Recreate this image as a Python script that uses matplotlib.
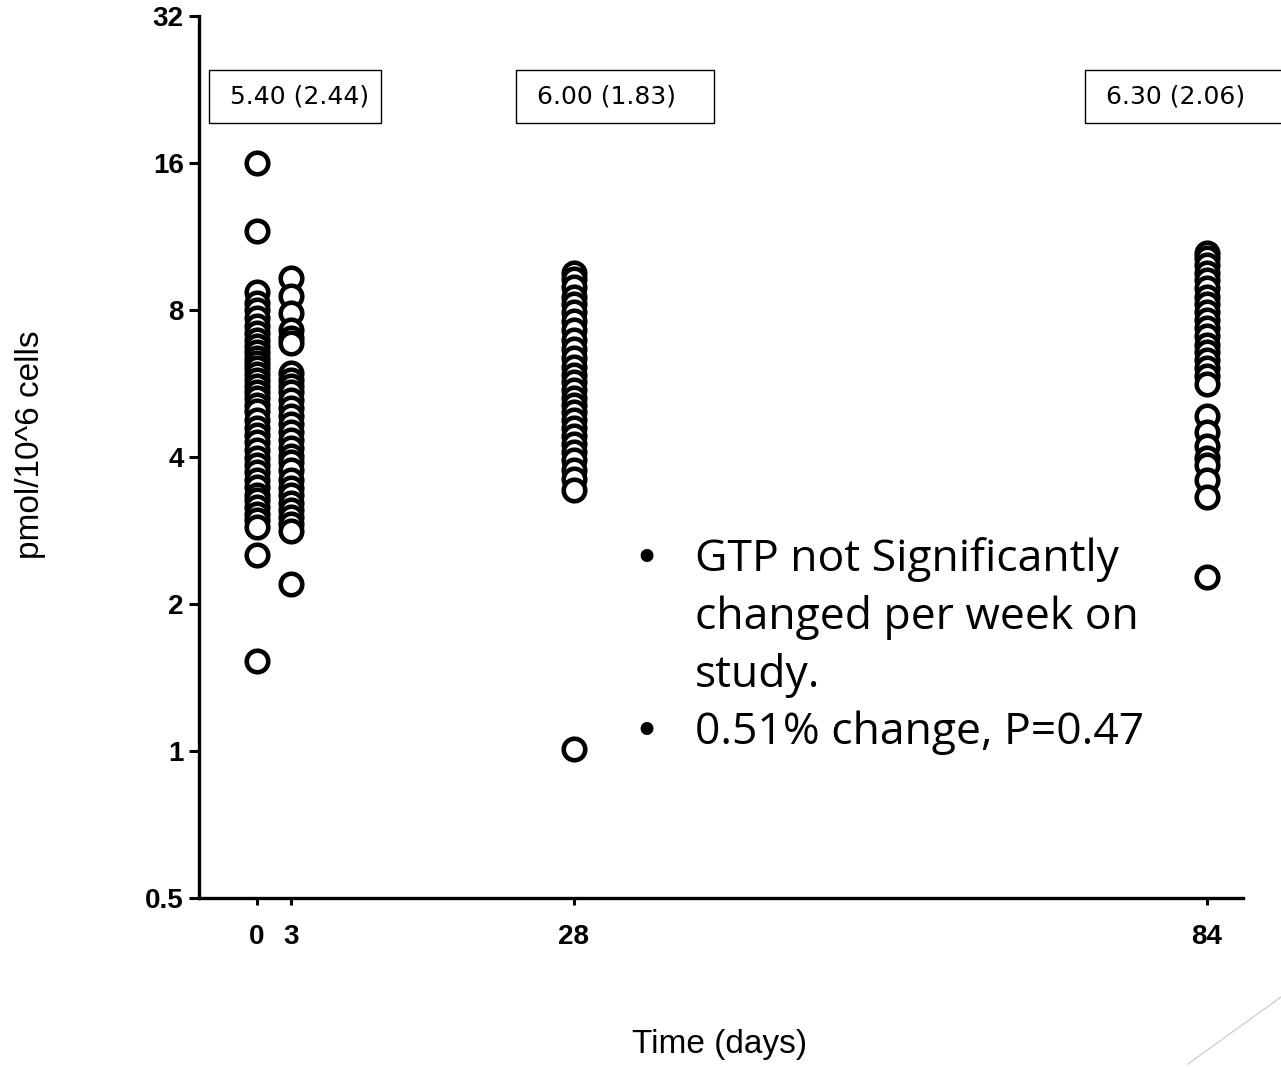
import numpy as np
import matplotlib
matplotlib.use('Agg')
import matplotlib.pyplot as plt
from matplotlib.lines import Line2D

# values (pmol/10^6 cells)
day0 = [16.0, 11.6, 8.71, 8.27, 8.0, 7.70, 7.42, 7.18, 6.94, 6.75, 6.57, 6.38,
        6.23, 6.09, 5.92, 5.75, 5.59, 5.44, 5.29, 5.12, 4.96, 4.76, 4.58, 4.43,
        4.30, 4.14, 3.98, 3.85, 3.72, 3.59, 3.47, 3.35, 3.27, 3.16, 3.06, 2.97,
        2.87, 2.52, 1.53]
day3 = [9.30, 8.55, 7.89, 7.28, 7.01, 6.84, 5.95, 5.75, 5.59, 5.44, 5.23, 5.04,
        4.85, 4.67, 4.50, 4.34, 4.18, 4.02, 3.91, 3.76, 3.59, 3.45, 3.34, 3.22,
        3.12, 3.01, 2.91, 2.82, 2.20]
day28 = [9.54, 9.26, 8.93, 8.51, 8.23, 7.92, 7.60, 7.28, 6.94, 6.66, 6.38, 6.12,
         5.90, 5.70, 5.49, 5.29, 5.12, 4.94, 4.76, 4.58, 4.42, 4.26, 4.10, 3.94,
         3.76, 3.61, 3.43, 1.01]
day84 = [10.47, 10.22, 9.88, 9.54, 9.20, 8.89, 8.51, 8.23, 7.92, 7.63, 7.35,
         7.08, 6.77, 6.57, 6.32, 6.09, 5.86, 5.64, 4.85, 4.50, 4.22, 3.98, 3.85,
         3.59, 3.32, 2.27]

days = [0, 3, 28, 84]
groups = [day0, day3, day28, day84]
xtick_labels = ['0', '3', '28', '84']
ytick_vals = [0.5, 1, 2, 4, 8, 16, 32]
ytick_labels = ['0.5', '1', '2', '4', '8', '16', '32']

box_labels = ['5.40 (2.44)', '6.00 (1.83)', '6.30 (2.06)']
box_left = [-4.24, 22.9, 73.2]
box_right = [10.96, 40.4, 90.6]
box_text_x = [-2.4, 24.8, 75.1]

bullets = [['GTP not Significantly', 'changed per week on', 'study.'],
           ['0.51% change, P=0.47']]

fig = plt.figure(figsize=(12.81, 10.67), dpi=100)
ax = fig.add_axes([199/1281, 1-898/1067, (1243-199)/1281, 882/1067])

for d, vals in zip(days, groups):
    ax.plot([d]*len(vals), vals, 'o', mfc='white', mec='black',
            ms=15.5, mew=3.3, linestyle='none', clip_on=False)

ax.set_yscale('log', base=2)
ax.set_ylim(0.5, 32)
ax.set_xlim(-5.13, 87.18)
ax.yaxis.set_minor_locator(matplotlib.ticker.NullLocator())

for s in ['top', 'right']:
    ax.spines[s].set_visible(False)
for s in ['left', 'bottom']:
    ax.spines[s].set_linewidth(2.4)

ax.tick_params(axis='y', length=7, width=2.2, pad=4)
ax.tick_params(axis='x', length=5, width=2.2, pad=14)
tick_font = dict(fontsize=20, fontweight='bold', family='Liberation Sans')
ax.set_yticks(ytick_vals)
ax.set_yticklabels(ytick_labels, **tick_font)
ax.set_xticks(days)
ax.set_xticklabels(xtick_labels, **tick_font)

# mean (sd) boxes
for lab, l, r, tx in zip(box_labels, box_left, box_right, box_text_x):
    ax.add_patch(plt.Rectangle((l, 19.3), r - l, 24.8 - 19.3, fill=False,
                               edgecolor='black', linewidth=1.0, clip_on=False))
    ax.text(tx, 21.9, lab, ha='left', va='center', fontsize=18,
            family='DejaVu Sans')

# bullet notes
line_gap = 57.5 / 1067
y0 = 1 - 560/1067
row = 0
for item in bullets:
    fig.text(646/1281, y0 - row*line_gap, '\u2022', fontsize=32,
             family='DejaVu Sans', va='center', ha='center')
    for line in item:
        fig.text(695/1281, y0 - row*line_gap, line, fontsize=32,
                 family='Open Sans', va='center')
        row += 1

fig.text(30/1281, 1-445/1067, 'pmol/10^6 cells', rotation=90, fontsize=24,
         family='Liberation Sans', ha='center', va='center')
fig.text(720/1281, 1-1045/1067, 'Time (days)', fontsize=24,
         family='Liberation Sans', ha='center', va='center')

fig.add_artist(Line2D([1188/1281, 1.0], [3/1067, 70/1067], color='#d0d0d0',
                      linewidth=1.0))

fig.savefig('out.png', dpi=100)
